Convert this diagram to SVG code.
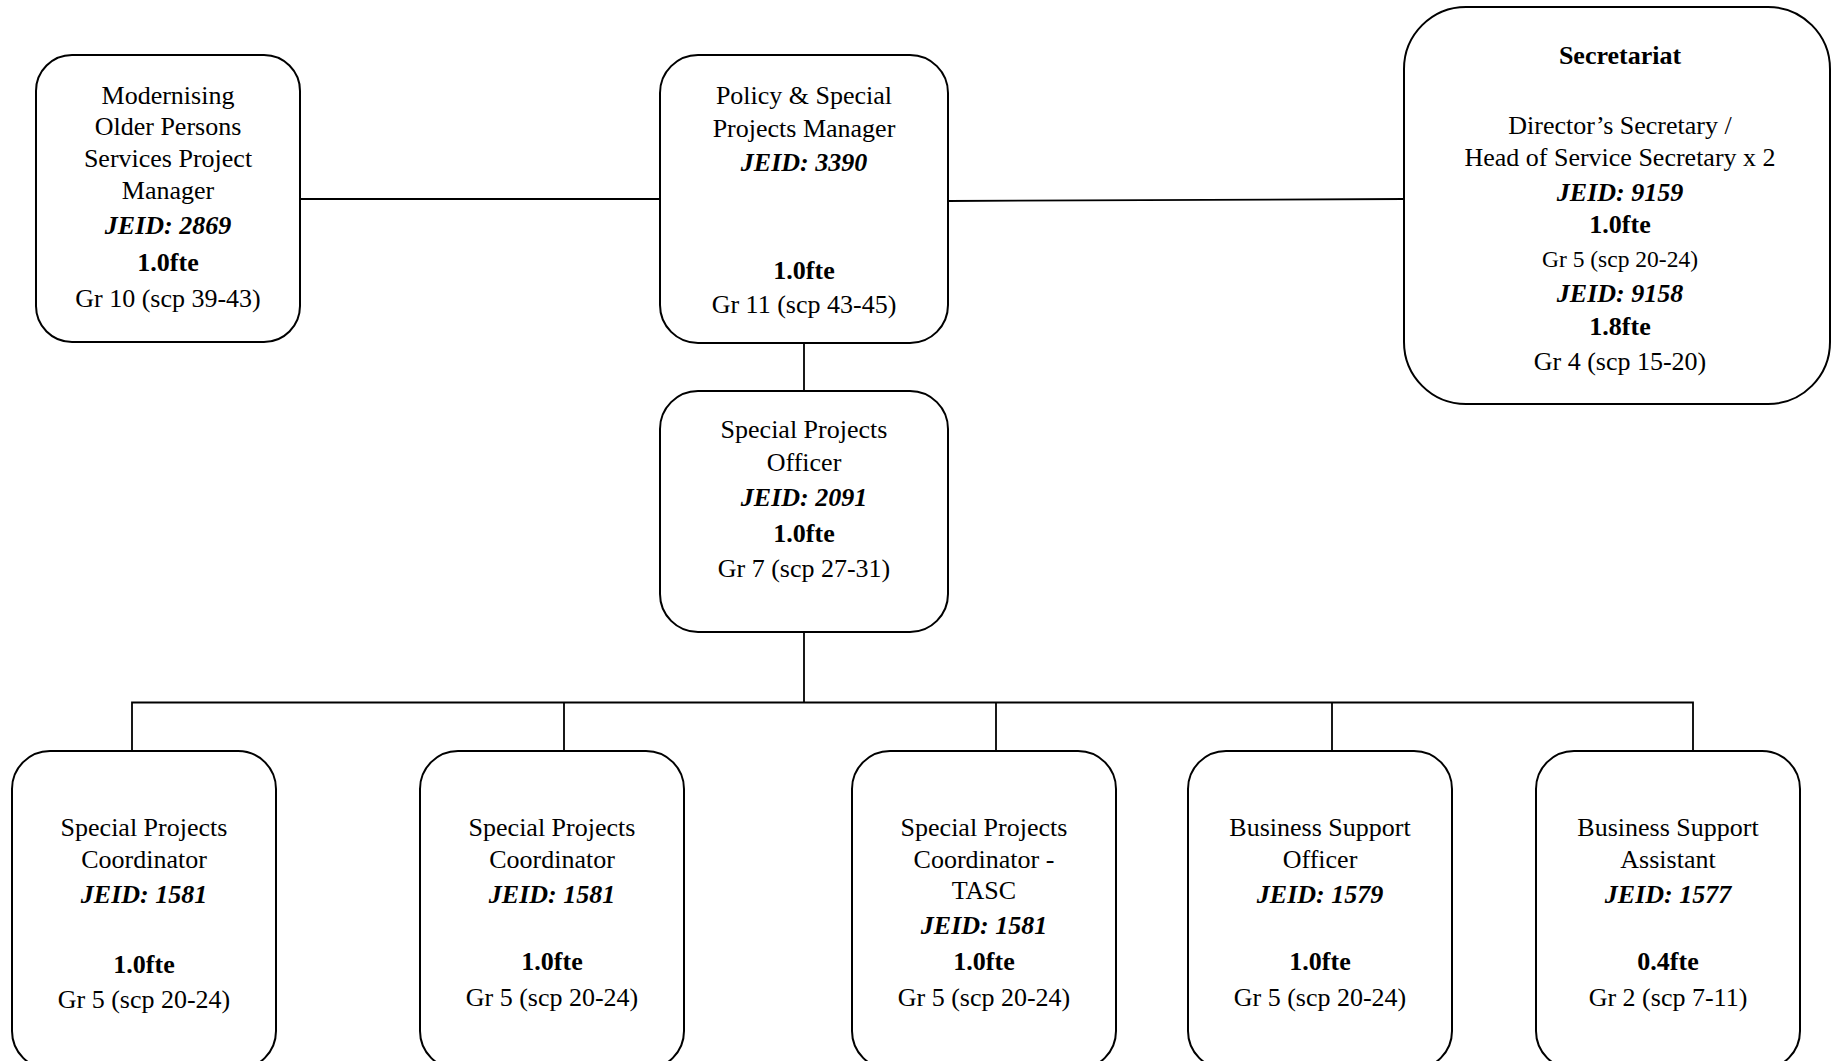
<svg xmlns="http://www.w3.org/2000/svg" width="1832" height="1061" viewBox="0 0 1832 1061">
<style>
.box{fill:#fff;stroke:#000;stroke-width:2}
.ln{fill:none;stroke:#000;stroke-width:1.8}
text{font-family:"Liberation Serif","Times New Roman",serif;font-size:26px;text-anchor:middle;fill:#000}
.b{font-weight:bold}
.bi{font-weight:bold;font-style:italic}
.sm{font-size:23.5px}
</style>
<rect width="1832" height="1061" fill="#fff"/>
<g id="connectors">
<line class="ln" x1="300" y1="199" x2="660" y2="199"/>
<line class="ln" x1="948" y1="201" x2="1404" y2="199"/>
<line class="ln" x1="804" y1="343" x2="804" y2="391"/>
<line class="ln" x1="804" y1="632" x2="804" y2="702.5"/>
<polyline class="ln" points="132,751 132,702.5 1693,702.5 1693,751"/>
<line class="ln" x1="564" y1="702.5" x2="564" y2="751"/>
<line class="ln" x1="996" y1="702.5" x2="996" y2="751"/>
<line class="ln" x1="1332" y1="702.5" x2="1332" y2="751"/>
</g>
<g id="modernising">
<rect class="box" x="36" y="55" width="264" height="287" rx="36"/>
<text x="168" y="104">Modernising</text>
<text x="168" y="135">Older Persons</text>
<text x="168" y="167">Services Project</text>
<text x="168" y="199">Manager</text>
<text class="bi" x="168" y="234">JEID: 2869</text>
<text class="b" x="168" y="271">1.0fte</text>
<text x="168" y="307">Gr 10 (scp 39-43)</text>
</g>
<g id="policy">
<rect class="box" x="660" y="55" width="288" height="288" rx="38"/>
<text x="804" y="104">Policy &amp; Special</text>
<text x="804" y="137">Projects Manager</text>
<text class="bi" x="804" y="171">JEID: 3390</text>
<text class="b" x="804" y="279">1.0fte</text>
<text x="804" y="313">Gr 11 (scp 43-45)</text>
</g>
<g id="secretariat">
<rect class="box" x="1404" y="7" width="426" height="397" rx="62"/>
<text class="b" x="1620" y="64">Secretariat</text>
<text x="1620" y="134">Director’s Secretary /</text>
<text x="1620" y="166">Head of Service Secretary x 2</text>
<text class="bi" x="1620" y="201">JEID: 9159</text>
<text class="b" x="1620" y="233">1.0fte</text>
<text class="sm" x="1620" y="267">Gr 5 (scp 20-24)</text>
<text class="bi" x="1620" y="302">JEID: 9158</text>
<text class="b" x="1620" y="335">1.8fte</text>
<text x="1620" y="370">Gr 4 (scp 15-20)</text>
</g>
<g id="officer">
<rect class="box" x="660" y="391" width="288" height="241" rx="38"/>
<text x="804" y="438">Special Projects</text>
<text x="804" y="471">Officer</text>
<text class="bi" x="804" y="506">JEID: 2091</text>
<text class="b" x="804" y="542">1.0fte</text>
<text x="804" y="577">Gr 7 (scp 27-31)</text>
</g>
<g id="coordinator1">
<rect class="box" x="12" y="751" width="264" height="318" rx="38"/>
<text x="144" y="836">Special Projects</text>
<text x="144" y="868">Coordinator</text>
<text class="bi" x="144" y="903">JEID: 1581</text>
<text class="b" x="144" y="973">1.0fte</text>
<text x="144" y="1008">Gr 5 (scp 20-24)</text>
</g>
<g id="coordinator2">
<rect class="box" x="420" y="751" width="264" height="318" rx="38"/>
<text x="552" y="836">Special Projects</text>
<text x="552" y="868">Coordinator</text>
<text class="bi" x="552" y="903">JEID: 1581</text>
<text class="b" x="552" y="970">1.0fte</text>
<text x="552" y="1006">Gr 5 (scp 20-24)</text>
</g>
<g id="coordinator-tasc">
<rect class="box" x="852" y="751" width="264" height="318" rx="38"/>
<text x="984" y="836">Special Projects</text>
<text x="984" y="868">Coordinator -</text>
<text x="984" y="899">TASC</text>
<text class="bi" x="984" y="934">JEID: 1581</text>
<text class="b" x="984" y="970">1.0fte</text>
<text x="984" y="1006">Gr 5 (scp 20-24)</text>
</g>
<g id="bs-officer">
<rect class="box" x="1188" y="751" width="264" height="318" rx="38"/>
<text x="1320" y="836">Business Support</text>
<text x="1320" y="868">Officer</text>
<text class="bi" x="1320" y="903">JEID: 1579</text>
<text class="b" x="1320" y="970">1.0fte</text>
<text x="1320" y="1006">Gr 5 (scp 20-24)</text>
</g>
<g id="bs-assistant">
<rect class="box" x="1536" y="751" width="264" height="318" rx="38"/>
<text x="1668" y="836">Business Support</text>
<text x="1668" y="868">Assistant</text>
<text class="bi" x="1668" y="903">JEID: 1577</text>
<text class="b" x="1668" y="970">0.4fte</text>
<text x="1668" y="1006">Gr 2 (scp 7-11)</text>
</g>
</svg>
